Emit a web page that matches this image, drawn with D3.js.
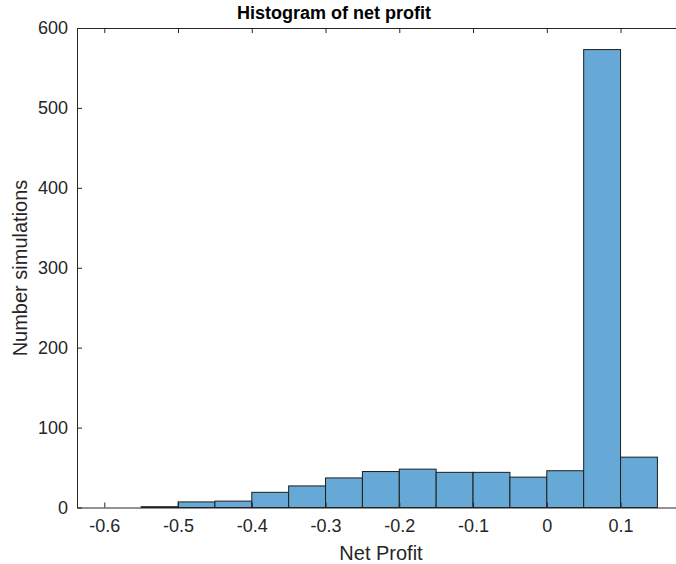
<!DOCTYPE html>
<html>
<head>
<meta charset="utf-8">
<script src="https://cdn.jsdelivr.net/npm/d3@7"></script>
<style>
  html, body { margin: 0; padding: 0; background: #fff; }
  svg { display: block; font-family: "Liberation Sans", Arial, sans-serif; }
</style>
</head>
<body>
<svg id="chart" width="676" height="564"></svg>
<script>
// Histogram bins (lower edges) and counts, bin width 0.05
const binStarts = [-0.55, -0.5, -0.45, -0.4, -0.35, -0.3, -0.25, -0.2, -0.15, -0.1, -0.05, 0, 0.05, 0.1];
const counts    = [1, 7, 8, 19, 27, 37, 45, 48, 44, 44, 38, 46, 573, 63];
const binWidth = 0.05;
const xTicks = [-0.6, -0.5, -0.4, -0.3, -0.2, -0.1, 0, 0.1];
const yTicks = [0, 100, 200, 300, 400, 500, 600];

const svg = d3.select("#chart");
const axisColor = "#262626";

const x = d3.scaleLinear().domain([-0.637, 0.2]).range([77, 694.3]);
const y = d3.scaleLinear().domain([0, 600]).range([507.5, 28]);

// Plain hyphen for negative tick labels
const fmt = d => String(+d.toFixed(2));

// Bars
svg.append("g")
  .selectAll("rect")
  .data(binStarts.map((s, i) => ({ s, c: counts[i] })))
  .join("rect")
  .attr("x", d => x(d.s))
  .attr("width", d => x(d.s + binWidth) - x(d.s))
  .attr("y", d => y(d.c))
  .attr("height", d => y(0) - y(d.c))
  .attr("fill", "#66a9d6")
  .attr("stroke", "#1e1e1e")
  .attr("stroke-width", 1);

const tickLen = 5;

// Bottom axis (ticks point inward)
const xAxis = d3.axisBottom(x).tickValues(xTicks).tickSizeInner(-tickLen).tickSizeOuter(0)
  .tickPadding(12).tickFormat(fmt);
const gx = svg.append("g").attr("transform", `translate(0,${y(0)})`).call(xAxis);
gx.select(".domain").attr("stroke", axisColor);
gx.selectAll(".tick line").attr("stroke", axisColor);
gx.selectAll(".tick text").attr("fill", axisColor).attr("font-size", 18)
  .attr("font-family", "Liberation Sans, Arial, sans-serif");

// Top axis (ticks only)
const xTop = d3.axisTop(x).tickValues(xTicks).tickSizeInner(-tickLen).tickSizeOuter(0).tickFormat("");
const gt = svg.append("g").attr("transform", `translate(0,${y(600)})`).call(xTop);
gt.select(".domain").attr("stroke", axisColor);
gt.selectAll(".tick line").attr("stroke", axisColor);

// Left axis
const yAxis = d3.axisLeft(y).tickValues(yTicks).tickSizeInner(-tickLen).tickSizeOuter(0).tickPadding(9);
const gy = svg.append("g").attr("transform", `translate(${x.range()[0]},0)`).call(yAxis);
gy.select(".domain").attr("stroke", axisColor);
gy.selectAll(".tick line").attr("stroke", axisColor);
gy.selectAll(".tick text").attr("fill", axisColor).attr("font-size", 18)
  .attr("font-family", "Liberation Sans, Arial, sans-serif");

// Right axis edge
svg.append("line")
  .attr("x1", x.range()[1]).attr("x2", x.range()[1])
  .attr("y1", y(0)).attr("y2", y(600))
  .attr("stroke", axisColor);

// Title and axis labels
svg.append("text")
  .attr("x", 334).attr("y", 19)
  .attr("text-anchor", "middle")
  .attr("font-size", 18).attr("font-weight", "bold").attr("fill", "#000")
  .text("Histogram of net profit");

svg.append("text")
  .attr("x", 381).attr("y", 560)
  .attr("text-anchor", "middle")
  .attr("font-size", 20).attr("fill", axisColor)
  .text("Net Profit");

svg.append("text")
  .attr("transform", "translate(27,268) rotate(-90)")
  .attr("text-anchor", "middle")
  .attr("font-size", 20).attr("fill", axisColor)
  .text("Number simulations");
</script>
</body>
</html>
